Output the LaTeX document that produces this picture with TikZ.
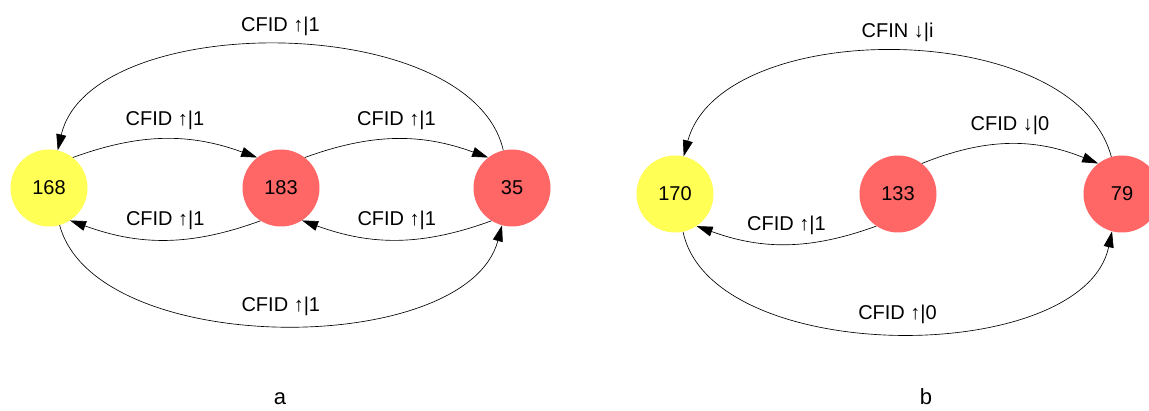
\documentclass[tikz,border=0pt]{standalone}
\usepackage{fontspec}
\setmainfont{Liberation Sans}
\usetikzlibrary{arrows.meta}
\definecolor{stateyellow}{HTML}{FFFF55}
\definecolor{statered}{HTML}{FF6666}

\begin{document}
\begin{tikzpicture}[x=1pt, y=1pt, font=\fontsize{20}{23}\selectfont,
  state/.style={circle, minimum size=77pt, inner sep=0pt},
  trans/.style={draw=black, line width=0.65pt, -{Triangle[length=16pt, width=10pt]}},
  lbl/.style={midway, yshift=19pt}]
  \useasboundingbox (0,0) rectangle (1149,410);
  % a
  \node[state, fill=stateyellow] (s168) at (49,222) {168};
  \node[state, fill=statered] (s183) at (281,222) {183};
  \node[state, fill=statered] (s35) at (512,222) {35};
  \draw[trans] (s168.52) to[out=20, in=160] node[lbl] {CFID ↑|1} (s183.128);
  \draw[trans] (s183.52) to[out=20, in=160] node[lbl] {CFID ↑|1} (s35.128);
  \draw[trans] (s183.-122) to[out=200, in=-20] node[lbl] {CFID ↑|1} (s168.-57);
  \draw[trans] (s35.-122) to[out=200, in=-20] node[lbl] {CFID ↑|1} (s183.-57);
  \draw[trans] (s35.103) to[out=103, in=77, looseness=0.83] node[lbl] {CFID ↑|1} (s168.77);
  \draw[trans] (s168.-74) to[out=-75, in=-105, looseness=0.8] node[lbl] {CFID ↑|1} (s35.-105);
  \node[font=\fontsize{22}{24}\selectfont, inner sep=0pt] (capa) at (280,11) {a};
  % b
  \node[state, fill=stateyellow] (s170) at (675,216) {170};
  \node[state, fill=statered] (s133) at (898,216) {133};
  \node[state, fill=statered] (s79) at (1122,216) {79};
  \draw[trans] (s133.52) to[out=22, in=158] node[lbl] {CFID ↓|0} (s79.128);
  \draw[trans] (s133.-124) to[out=200, in=-20] node[lbl] {CFID ↑|1} (s170.-56);
  \draw[trans] (s79.106) to[out=105, in=75, looseness=0.87] node[lbl] {CFIN ↓|i} (s170.77);
  \draw[trans] (s170.-78) to[out=-78, in=-102, looseness=0.83] node[lbl] {CFID ↑|0} (s79.-105);
  \node[font=\fontsize{22}{24}\selectfont, inner sep=0pt] (capb) at (926,13) {b};
\end{tikzpicture}
\end{document}
